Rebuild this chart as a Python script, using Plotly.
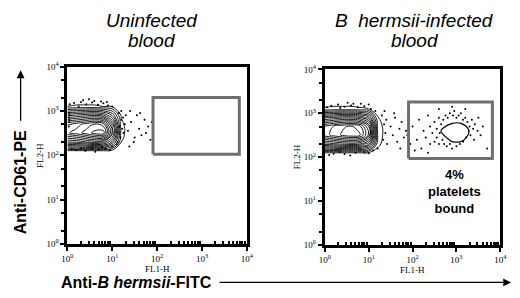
import numpy as np
import plotly.graph_objects as go

# ---------------- data (log10 fluorescence units) ----------------
tick_vals = [1, 10, 100, 1000, 10000]
tick_text = ["10<sup>0</sup>", "10<sup>1</sup>", "10<sup>2</sup>", "10<sup>3</sup>", "10<sup>4</sup>"]

# main platelet population density grid (rows = FL2 decades, cols = FL1 decades)
main_grid_x = [0, 0.2, 0.4, 0.6, 0.8, 1.0, 1.2, 1.4]
main_grid_y = [1.9, 2.1, 2.3, 2.5, 2.7, 2.9, 3.1, 3.3]
main_density_uninf = [
    [0.00, 0.00, 0.00, 0.00, 0.00, 0.00, 0.00, 0.00],
    [0.04, 0.04, 0.04, 0.04, 0.04, 0.02, 0.00, 0.00],
    [0.50, 0.52, 0.56, 0.60, 0.56, 0.36, 0.05, 0.00],
    [0.82, 0.86, 0.92, 0.98, 1.00, 0.62, 0.08, 0.00],
    [0.76, 0.80, 0.85, 0.90, 0.86, 0.54, 0.07, 0.00],
    [0.42, 0.45, 0.48, 0.50, 0.45, 0.30, 0.04, 0.00],
    [0.05, 0.06, 0.06, 0.06, 0.05, 0.04, 0.00, 0.00],
    [0.00, 0.00, 0.00, 0.00, 0.00, 0.00, 0.00, 0.00],
]
main_density_inf = [
    [0.00, 0.00, 0.00, 0.00, 0.00, 0.00, 0.00, 0.00],
    [0.05, 0.05, 0.05, 0.05, 0.05, 0.04, 0.01, 0.00],
    [0.52, 0.55, 0.58, 0.60, 0.57, 0.45, 0.08, 0.00],
    [0.86, 0.92, 0.97, 1.00, 0.97, 0.75, 0.12, 0.00],
    [0.84, 0.90, 0.95, 0.97, 0.92, 0.70, 0.11, 0.00],
    [0.50, 0.52, 0.55, 0.55, 0.52, 0.40, 0.06, 0.00],
    [0.06, 0.07, 0.07, 0.07, 0.06, 0.05, 0.00, 0.00],
    [0.00, 0.00, 0.00, 0.00, 0.00, 0.00, 0.00, 0.00],
]

# bound-platelet population (infected blood only)
bound_grid_x = [2.5, 2.7, 2.9, 3.1, 3.3, 3.5]
bound_grid_y = [2.2, 2.4, 2.6, 2.8, 3.0]
bound_density = [
    [0.0, 0.05, 0.1, 0.1, 0.05, 0.0],
    [0.0, 0.25, 0.55, 0.55, 0.3, 0.0],
    [0.05, 0.6, 1.0, 1.0, 0.4, 0.05],
    [0.0, 0.15, 0.35, 0.35, 0.15, 0.0],
    [0.0, 0.0, 0.0, 0.0, 0.0, 0.0],
]

# sparse events (log10 FL1, log10 FL2)
dots_uninf_x = [0.15, 0.3, 0.42, 0.55, 0.68, 0.8, 0.9, 1.0, 0.25, 0.6, 0.35, 0.75, 0.05, 0.48, 0.88,
                0.2, 0.4, 0.55, 0.7, 0.85, 1.0, 0.3, 0.95, 0.1, 0.62, 0.78,
                1.15, 1.2, 1.22, 1.18, 1.25, 1.28, 1.12, 1.3, 1.2, 1.1, 1.24, 1.16,
                1.35, 1.42, 1.5, 1.55, 1.6, 1.65, 1.72, 1.75, 1.8, 1.85, 1.4, 1.48, 1.62, 1.88, 1.38,
                0.03, 0.03, 0.04, 0.03, 0.05, 0.04]
dots_uninf_y = [3.18, 3.2, 3.15, 3.19, 3.14, 3.17, 3.12, 3.1, 3.1, 3.22, 3.24, 3.21, 3.15, 3.26, 3.2,
                2.12, 2.1, 2.15, 2.13, 2.16, 2.2, 2.16, 2.12, 2.14, 2.08, 2.18,
                2.95, 2.8, 2.6, 2.4, 2.5, 2.7, 2.3, 2.9, 3.0, 2.25, 2.85, 2.65,
                2.55, 2.75, 2.4, 2.9, 2.6, 2.45, 2.8, 2.5, 2.65, 2.35, 3.0, 2.3, 2.95, 2.75, 2.2,
                2.95, 2.85, 2.75, 2.65, 2.9, 2.8]

dots_inf_x = [0.15, 0.3, 0.45, 0.6, 0.75, 0.9, 1.05, 1.15, 0.35, 0.65, 1.0, 0.05, 0.52, 0.82,
              0.2, 0.45, 0.7, 0.9, 1.1, 0.35, 1.2, 0.1, 0.58, 1.0,
              1.3, 1.35, 1.38, 1.33, 1.4, 1.42, 1.36,
              1.5, 1.55, 1.6, 1.65, 1.7, 1.75, 1.8, 1.85, 1.9, 1.95, 2.0, 1.58, 1.72, 1.88,
              2.1, 2.15, 2.2, 2.25, 2.3, 2.35, 2.4, 2.4, 2.45, 2.5, 2.5, 2.55, 2.55, 2.6, 2.6,
              2.62, 2.65, 2.68, 2.7, 2.72, 2.75, 2.78, 2.8, 2.85, 2.85, 2.9, 2.92, 2.95, 3.0,
              3.0, 3.05, 3.08, 3.1, 3.15, 3.15, 3.2, 3.22, 3.25, 3.28, 3.3, 3.32, 3.35, 3.38,
              3.4, 3.42, 3.48, 3.5, 3.55, 3.6, 2.35, 3.7, 2.05, 2.9, 3.2, 2.6]
dots_inf_y = [3.17, 3.2, 3.15, 3.18, 3.14, 3.16, 3.1, 3.05, 3.12, 3.22, 3.2, 3.14, 3.24, 3.22,
              2.08, 2.07, 2.1, 2.12, 2.15, 2.12, 2.2, 2.05, 2.04, 2.09,
              2.95, 2.75, 2.55, 2.4, 2.85, 2.3, 3.05,
              2.7, 2.5, 2.9, 2.35, 2.65, 2.8, 2.45, 2.6, 2.95, 2.3, 2.7, 3.0, 2.2, 2.5,
              2.4, 2.85, 2.2, 2.6, 2.45, 2.95, 2.3, 2.7, 2.55, 2.8, 2.35, 2.65, 2.45, 2.9, 2.3,
              2.55, 2.75, 2.4, 2.85, 2.3, 2.95, 2.25, 2.9, 3.0, 2.3, 2.2, 2.95, 3.05, 2.25,
              2.9, 2.95, 2.3, 3.0, 2.35, 2.85, 2.9, 2.45, 2.8, 2.6, 2.7, 2.5, 2.85, 2.65,
              2.4, 2.75, 2.6, 2.9, 2.5, 2.7, 2.1, 2.2, 2.15, 3.15, 3.1, 3.1]

# analysis gates (FL1 range, FL2 range)
gate_uninf_x = [81, 6800]
gate_uninf_y = [105, 2000]
gate_inf_x = [81, 6600]
gate_inf_y = [93, 1800]

bound_label = "4%<br>platelets<br>bound"

# ---------------- figure ----------------
W, H = 520, 298
def PX(p):
    return p / W
def PY(p):
    return 1 - p / H

fig = go.Figure()

def add_panel(xref, yref, dens, dx, dy, gx, gy):
    fig.add_trace(go.Contour(
        x=np.power(10.0, main_grid_x), y=np.power(10.0, main_grid_y), z=dens,
        xaxis=xref, yaxis=yref,
        contours=dict(coloring="lines", start=0.05, end=0.98, size=0.065),
        line=dict(width=0.9, smoothing=1.3),
        colorscale=[[0, "black"], [1, "black"]], showscale=False, hoverinfo="skip"))
    fig.add_trace(go.Scatter(
        x=np.power(10.0, dx), y=np.power(10.0, dy), mode="markers",
        marker=dict(size=2, color="black"), xaxis=xref, yaxis=yref,
        hoverinfo="skip", showlegend=False))
    fig.add_trace(go.Scatter(
        x=[gx[0], gx[1], gx[1], gx[0], gx[0]],
        y=[gy[0], gy[0], gy[1], gy[1], gy[0]],
        mode="lines", line=dict(color="#6f6f6f", width=3),
        xaxis=xref, yaxis=yref, hoverinfo="skip", showlegend=False))

add_panel("x", "y", main_density_uninf, dots_uninf_x, dots_uninf_y, gate_uninf_x, gate_uninf_y)
add_panel("x2", "y2", main_density_inf, dots_inf_x, dots_inf_y, gate_inf_x, gate_inf_y)
fig.add_trace(go.Contour(
    x=np.power(10.0, bound_grid_x), y=np.power(10.0, bound_grid_y), z=bound_density,
    xaxis="x2", yaxis="y2",
    contours=dict(coloring="lines", start=0.45, end=0.45, size=0.1),
    line=dict(width=1.2, smoothing=1.3),
    colorscale=[[0, "black"], [1, "black"]], showscale=False, hoverinfo="skip"))

# minor tick positions (2..9 within each decade for x, 2 and 5 for y)
minor_x = [m * 10 ** d for d in range(4) for m in range(2, 10)]
minor_y = [m * 10 ** d for d in range(4) for m in (2, 5)]

tickfont = dict(family="Liberation Serif, Times New Roman, serif", size=9, color="black")
def axis(domain, anchor, minor_vals, minor_dir):
    return dict(type="log", range=[0, 4], domain=domain, anchor=anchor,
                tickmode="array", tickvals=tick_vals, ticktext=tick_text, tickfont=tickfont,
                showline=True, mirror=True, linewidth=3, linecolor="black",
                ticks="outside", ticklen=4, tickwidth=2, tickcolor="black",
                showgrid=False, zeroline=False,
                minor=dict(tickmode="array", tickvals=minor_vals, ticks=minor_dir,
                           ticklen=3, tickwidth=2, tickcolor="black", showgrid=False))

fig.update_layout(
    width=W, height=H, margin=dict(l=0, r=0, t=0, b=0),
    paper_bgcolor="white", plot_bgcolor="white", showlegend=False,
    xaxis=axis([PX(63), PX(247)], "y", minor_x, "inside"),
    yaxis=axis([PY(247), PY(62)], "x", minor_y, "outside"),
    xaxis2=axis([PX(327), PX(507)], "y2", minor_x, "inside"),
    yaxis2=axis([PY(248), PY(65)], "x2", minor_y, "outside"),
    hovermode=False,
)

sans = "Liberation Sans, Arial, Helvetica, sans-serif"
serif = "Liberation Serif, Times New Roman, serif"
title_font = dict(family=sans, size=19, color="black")
ann = [
    dict(x=PX(150), y=PY(14), text="<i>Uninfected</i>", font=title_font),
    dict(x=PX(150), y=PY(35), text="<i>blood</i>", font=title_font),
    dict(x=PX(419), y=PY(14), text="<i>B\u00a0 hermsii-infected</i>", font=title_font),
    dict(x=PX(419), y=PY(35), text="<i>blood</i>", font=title_font),
    dict(x=PX(35), y=PY(155), text="FL2-H", textangle=-90,
         font=dict(family=serif, size=9, color="black")),
    dict(x=PX(298), y=PY(156), text="FL2-H", textangle=-90,
         font=dict(family=serif, size=9, color="black")),
    dict(x=PX(155), y=PY(273), text="FL1-H",
         font=dict(family=serif, size=9, color="black")),
    dict(x=PX(417), y=PY(274), text="FL1-H",
         font=dict(family=serif, size=9, color="black")),
    dict(x=PX(460), y=PY(192), text="<b>" + bound_label + "</b>",
         font=dict(family=sans, size=13, color="black")),
    dict(x=PX(15), y=PY(183), text="<b>Anti-CD61-PE</b>", textangle=-90,
         font=dict(family=sans, size=16, color="black")),
    dict(x=PX(134), y=PY(287), text="<b>Anti-<i>B hermsii</i>-FITC</b>",
         font=dict(family=sans, size=16, color="black")),
    # arrows
    dict(x=PX(15), y=PY(66), ax=0, ay=52, text="", showarrow=True,
         arrowhead=2, arrowsize=1.2, arrowwidth=1.3, arrowcolor="black"),
    dict(x=PX(518), y=PY(287), ax=-293, ay=0, text="", showarrow=True,
         arrowhead=2, arrowsize=1.2, arrowwidth=1.3, arrowcolor="black"),
]
for a in ann:
    a.setdefault("xref", "paper")
    a.setdefault("yref", "paper")
    a.setdefault("showarrow", False)
    a.setdefault("xanchor", "center")
    a.setdefault("yanchor", "middle")
fig.update_layout(annotations=ann)

fig.write_html("out.html", config={"displayModeBar": False},
               post_script="document.body.style.margin='0';document.body.style.padding='0';")
